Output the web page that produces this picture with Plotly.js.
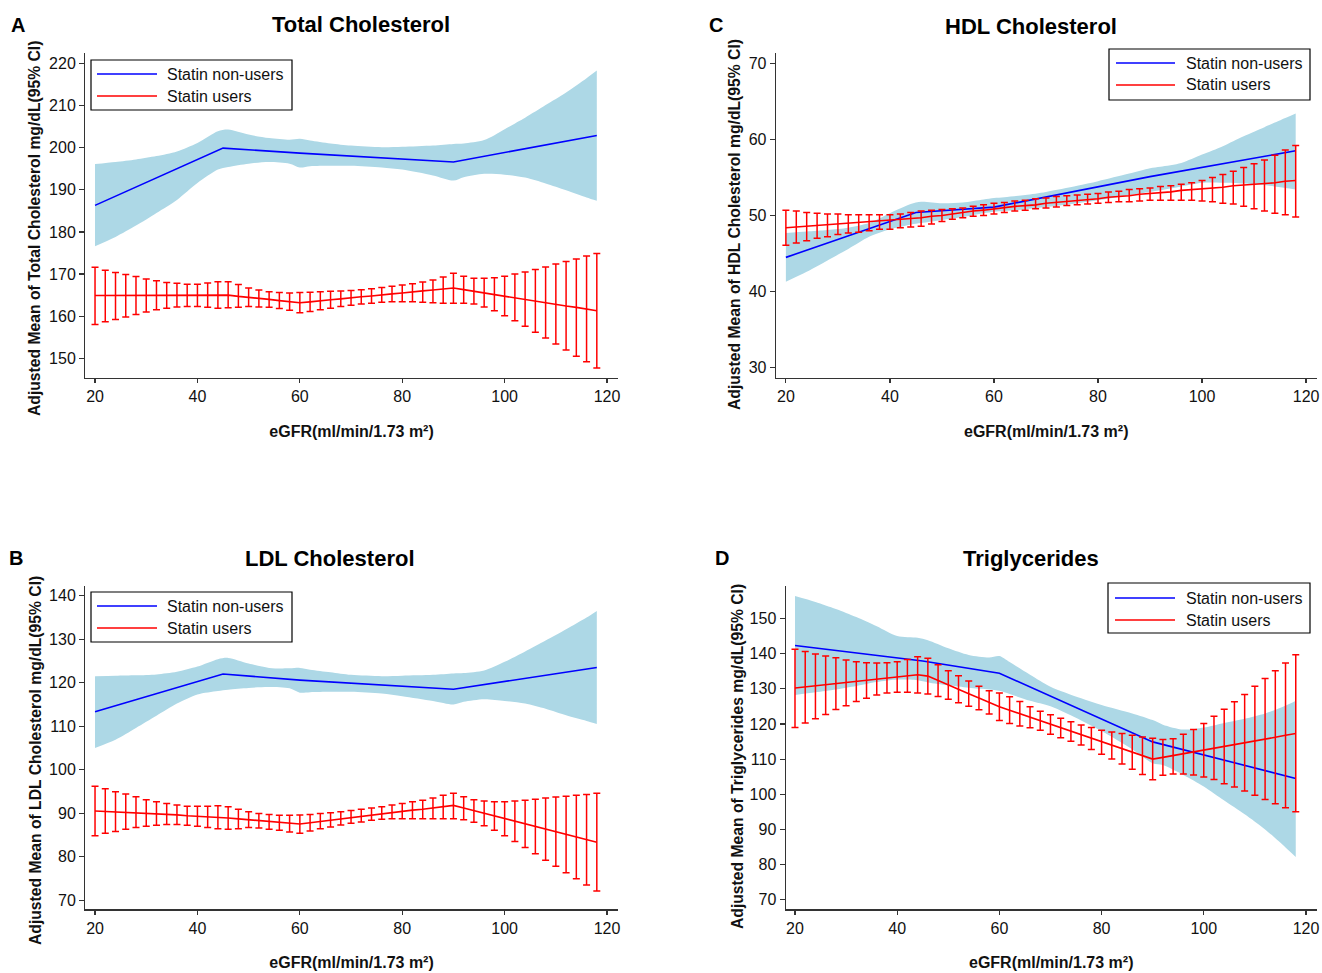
<!DOCTYPE html>
<html><head><meta charset="utf-8">
<script src="https://cdn.plot.ly/plotly-3.0.1.min.js"></script>
<style>html,body{margin:0;padding:0;background:#fff}#chart{width:1322px;height:973px}</style>
</head><body><div id="chart"></div>
<script>
// ---------- DATA ----------
const egfr = [20,22,24,26,28,30,32,34,36,38,40,42,44,46,48,50,52,54,56,58,60,62,64,66,68,70,72,74,76,78,80,82,84,86,88,90,92,94,96,98,100,102,104,106,108,110,112,114,116,118];
const knotX = [20,45,60,90,118];
const bandX = [20,24,28,32,36,40,44,46,50,54,58,60,62,66,70,76,80,86,90,92,96,100,104,108,112,116,118];
const seriesNames = ['Statin non-users','Statin users'];
const xTitle = 'eGFR(ml/min/1.73 m²)';

// A: Total cholesterol
const tcNonUsers = [186.3,199.9,198.7,196.6,202.9];
const tcBandUpper = [196.1,196.6,197.2,198.0,199.1,201.1,203.9,204.3,203.1,202.3,201.9,202.1,201.7,201.0,200.5,200.1,200.2,200.5,200.9,201.0,201.8,204.4,207.1,210.1,213.1,216.5,218.3];
const tcBandLower = [176.6,178.8,181.5,184.5,187.6,191.6,194.8,195.4,196.2,196.6,196.2,195.3,195.6,195.7,195.7,195.3,194.8,193.4,192.2,193.0,193.8,193.6,192.9,191.5,189.9,188.2,187.4];
const tcUsers = [164.9,164.9,164.9,164.9,164.9,165.0,165.0,165.0,165.0,165.0,165.0,165.0,165.0,165.0,164.7,164.5,164.2,164.0,163.7,163.5,163.2,163.4,163.7,163.9,164.1,164.4,164.6,164.8,165.1,165.3,165.5,165.8,166.0,166.2,166.5,166.7,166.3,165.9,165.5,165.2,164.8,164.4,164.0,163.6,163.2,162.8,162.4,162.1,161.7,161.3];
const tcUsersUpper = [171.6,170.9,170.4,169.9,169.4,168.8,168.4,168.0,167.8,167.6,167.6,167.9,168.2,168.2,167.5,166.7,166.2,165.8,165.6,165.5,165.6,165.7,165.8,165.9,166.0,166.1,166.3,166.5,166.8,167.1,167.4,167.7,168.1,168.6,169.3,170.2,169.5,169.0,169.0,169.1,169.5,170.0,170.5,171.1,171.7,172.4,173.0,173.6,174.3,174.9];
const tcUsersLower = [158.0,158.7,159.2,159.8,160.4,161.0,161.5,161.9,162.2,162.3,162.3,162.1,161.9,162.0,162.1,162.3,162.2,162.1,161.8,161.4,160.8,161.1,161.5,161.9,162.3,162.6,162.9,163.1,163.3,163.4,163.4,163.4,163.3,163.2,163.1,163.1,163.1,162.9,162.2,161.3,160.1,158.9,157.6,156.2,154.8,153.4,152.0,150.5,149.2,147.7];

// B: LDL cholesterol
const ldlNonUsers = [113.3,122.0,120.6,118.5,123.5];
const ldlBandUpper = [121.5,121.6,121.7,121.9,122.5,123.7,125.4,125.7,124.4,123.4,123.3,123.4,123.0,122.4,121.8,121.5,121.6,121.8,122.1,122.2,122.8,124.8,127.2,129.7,132.3,135.0,136.5];
const ldlBandLower = [105.0,106.9,109.6,112.4,115.2,117.3,118.1,118.4,118.8,119.0,118.7,117.7,117.8,117.9,117.9,117.5,116.9,115.8,115.0,115.6,116.2,115.8,115.2,114.0,112.5,111.2,110.5];
const ldlUsers = [90.5,90.4,90.3,90.1,90.0,89.9,89.8,89.7,89.6,89.4,89.3,89.2,89.0,88.9,88.7,88.5,88.3,88.1,87.9,87.7,87.5,87.8,88.1,88.4,88.6,88.9,89.2,89.5,89.8,90.1,90.4,90.7,90.9,91.2,91.5,91.8,91.2,90.6,90.0,89.4,88.8,88.2,87.6,86.9,86.3,85.7,85.1,84.5,83.9,83.3];
const ldlUsersUpper = [96.2,95.6,94.9,94.4,93.8,93.1,92.6,92.2,91.9,91.6,91.6,91.6,91.7,91.5,90.9,90.3,89.9,89.7,89.5,89.5,89.6,89.7,89.9,90.1,90.3,90.6,90.9,91.2,91.5,91.9,92.2,92.6,93.0,93.5,94.1,94.6,93.8,93.1,92.8,92.6,92.6,92.8,93.0,93.2,93.5,93.7,93.9,94.1,94.3,94.6];
const ldlUsersLower = [84.8,85.4,85.8,86.3,86.7,87.0,87.2,87.4,87.4,87.2,87.0,86.7,86.4,86.3,86.4,86.7,86.6,86.3,86.1,85.7,85.4,85.9,86.4,86.8,87.3,87.7,88.0,88.4,88.6,88.7,88.7,88.7,88.7,88.7,88.7,88.7,88.5,87.9,87.1,86.1,84.8,83.5,82.1,80.7,79.2,77.8,76.3,74.9,73.5,72.1];

// C: HDL cholesterol
const hdlNonUsers = [44.5,50.4,51.1,55.1,58.5];
const hdlBandUpper = [47.7,47.9,48.1,48.4,49.0,50.3,51.5,51.8,51.6,51.7,52.1,52.3,52.4,52.7,53.1,53.9,54.5,55.5,56.2,56.4,56.9,58.0,59.1,60.4,61.6,62.8,63.4];
const hdlBandLower = [41.3,42.6,44.1,45.6,47.2,48.2,48.8,49.0,49.4,49.8,50.3,50.5,50.6,50.8,51.1,51.6,52.0,52.7,53.1,53.3,53.8,54.3,54.3,54.2,54.0,53.6,53.4];
const hdlUsers = [48.4,48.5,48.6,48.7,48.8,48.9,49.0,49.1,49.2,49.3,49.4,49.5,49.6,49.7,49.9,50.0,50.2,50.4,50.6,50.7,50.9,51.0,51.2,51.3,51.4,51.6,51.7,51.8,52.0,52.1,52.2,52.4,52.5,52.6,52.8,52.9,53.0,53.1,53.3,53.4,53.5,53.6,53.7,53.9,54.0,54.1,54.2,54.3,54.5,54.6];
const hdlUsersUpper = [50.7,50.6,50.4,50.3,50.2,50.2,50.1,50.1,50.1,50.1,50.1,50.2,50.4,50.6,50.7,50.8,50.9,51.0,51.2,51.4,51.6,51.7,51.9,52.0,52.2,52.3,52.5,52.6,52.7,52.8,52.9,53.1,53.2,53.4,53.5,53.6,53.8,53.9,54.1,54.3,54.6,55.0,55.4,55.8,56.3,56.8,57.3,57.9,58.6,59.2];
const hdlUsersLower = [46.1,46.4,46.7,47.0,47.2,47.5,47.7,47.8,48.0,48.2,48.2,48.4,48.5,48.6,48.9,49.2,49.5,49.7,49.9,50.0,50.2,50.4,50.6,50.7,50.9,51.0,51.1,51.3,51.4,51.5,51.6,51.7,51.8,51.8,51.9,52.0,52.0,52.0,52.0,52.0,51.9,51.8,51.6,51.5,51.2,50.9,50.6,50.3,50.1,49.8];

// D: Triglycerides
const tgNonUsers = [142.3,137.9,134.4,114.9,104.5];
const tgBandUpper = [156.4,154.7,152.7,150.4,147.8,145.0,144.5,143.8,141.5,139.6,138.9,139.3,137.6,134.0,130.6,127.3,125.4,123.0,121.1,119.8,118.4,119.0,120.3,121.5,123.0,125.2,126.6];
const tgBandLower = [128.2,129.0,129.8,130.8,131.9,132.6,132.4,131.8,131.0,130.3,129.8,129.4,128.5,126.6,125.0,121.0,118.0,112.8,108.8,108.3,105.5,102.2,98.2,94.3,90.0,84.9,82.2];
const tgUsers = [130.2,130.5,130.8,131.2,131.5,131.8,132.1,132.4,132.8,133.1,133.4,133.7,134.0,133.6,132.3,131.1,129.9,128.6,127.4,126.1,124.9,123.9,122.9,121.9,120.9,119.9,118.9,117.9,116.9,115.9,114.9,113.9,113.0,112.0,111.0,110.0,110.5,111.0,111.6,112.1,112.6,113.1,113.6,114.2,114.7,115.2,115.7,116.2,116.8,117.3];
const tgUsersUpper = [141.2,140.6,139.9,139.3,138.8,138.2,137.7,137.4,137.3,137.4,137.7,138.3,139.1,138.7,136.8,135.1,133.7,132.2,130.7,129.4,128.8,127.7,126.4,124.9,123.6,122.6,121.6,120.6,119.7,119.0,118.2,117.7,117.3,116.8,116.3,115.9,115.6,115.8,117.1,118.4,120.1,122.2,124.2,126.3,128.4,130.7,132.9,135.1,137.3,139.7];
const tgUsersLower = [119.0,120.3,121.5,122.7,124.1,125.2,126.4,127.3,128.2,128.8,129.0,129.0,128.8,128.5,127.8,127.0,126.0,125.0,124.0,122.8,121.0,120.1,119.4,118.9,118.2,117.1,116.1,115.1,114.0,112.7,111.4,110.0,108.6,107.1,105.6,104.1,105.4,105.8,105.8,105.5,104.9,104.2,103.0,102.1,100.9,99.7,98.5,97.3,96.2,95.0];

// ---------- LAYOUT ----------
const W = 1322, H = 973;
const FONT = 'Liberation Sans, Arial, Helvetica, sans-serif';
const px = v => v / W;
const py = v => 1 - v / H;

const panels = [
  {letter:'A', title:'Total Cholesterol', ytitle:'Adjusted Mean of Total Cholesterol mg/dL(95% CI)',
   non:tcNonUsers, bu:tcBandUpper, bl:tcBandLower, m:tcUsers, up:tcUsersUpper, lo:tcUsersLower,
   ax:'', xdom:[85.3,617.8], ydom:[53.3,377.7], xr:[18.1,122.1], yr:[145.4,222.4], ytPos:[35,229],
   letterPos:[18,25], titlePos:[361,25], leg:{x0:91,x1:292,y0:60,y1:110,l0:97,l1:157,ly:[74,96],tx:165}},
  {letter:'C', title:'HDL Cholesterol', ytitle:'Adjusted Mean of HDL Cholesterol mg/dL(95% CI)',
   non:hdlNonUsers, bu:hdlBandUpper, bl:hdlBandLower, m:hdlUsers, up:hdlUsersUpper, lo:hdlUsersLower,
   ax:'2', xdom:[776,1316.5], ydom:[53.3,377.7], xr:[18.1,122.0], yr:[28.7,71.3], ytPos:[735,225],
   letterPos:[716,25], titlePos:[1031,26], leg:{x0:1109,x1:1310,y0:49,y1:100,l0:1116,l1:1175,ly:[63,85],tx:1184}},
  {letter:'B', title:'LDL Cholesterol', ytitle:'Adjusted Mean of LDL Cholesterol mg/dL(95% CI)',
   non:ldlNonUsers, bu:ldlBandUpper, bl:ldlBandLower, m:ldlUsers, up:ldlUsersUpper, lo:ldlUsersLower,
   ax:'3', xdom:[85.3,617.8], ydom:[585.7,909.3], xr:[18.1,122.1], yr:[67.9,142.3], ytPos:[35,761],
   letterPos:[16,558], titlePos:[330,558], leg:{x0:91,x1:292,y0:592,y1:642,l0:97,l1:157,ly:[606,628],tx:165}},
  {letter:'D', title:'Triglycerides', ytitle:'Adjusted Mean of Triglycerides mg/dL(95% CI)',
   non:tgNonUsers, bu:tgBandUpper, bl:tgBandLower, m:tgUsers, up:tgUsersUpper, lo:tgUsersLower,
   ax:'4', xdom:[785.8,1316.7], ydom:[585.7,909.3], xr:[18.2,122.1], yr:[67.3,159.3], ytPos:[737,757],
   letterPos:[722,558], titlePos:[1031,558], leg:{x0:1108,x1:1310,y0:583,y1:633,l0:1115,l1:1175,ly:[598,620],tx:1184}}
];

const traces = [];
const layout = {
  width: W, height: H, margin:{l:0,r:0,t:0,b:0}, paper_bgcolor:'#fff', plot_bgcolor:'rgba(0,0,0,0)',
  showlegend:false, font:{family:FONT, color:'#111'}, shapes:[], annotations:[]
};
const AXC = '#333';

panels.forEach(p => {
  const xa = 'x' + p.ax, ya = 'y' + p.ax;
  // CI band of non-users (lower edge, then upper edge filled down to it)
  traces.push({
    type:'scatter', mode:'lines', xaxis:xa, yaxis:ya, hoverinfo:'skip',
    x: bandX, y: p.bl, line:{width:0, color:'rgba(0,0,0,0)', shape:'spline', smoothing:0.8}
  });
  traces.push({
    type:'scatter', mode:'lines', xaxis:xa, yaxis:ya, hoverinfo:'skip',
    x: bandX, y: p.bu, fill:'tonexty', fillcolor:'#ADD8E6',
    line:{width:0, color:'rgba(0,0,0,0)', shape:'spline', smoothing:0.8}
  });
  // Non-users mean line
  traces.push({
    type:'scatter', mode:'lines', xaxis:xa, yaxis:ya, name:seriesNames[0],
    x: knotX, y: p.non, line:{color:'#0000FF', width:1.6}
  });
  // Users mean with CI error bars
  traces.push({
    type:'scatter', mode:'lines', xaxis:xa, yaxis:ya, name:seriesNames[1],
    x: egfr, y: p.m, line:{color:'#FF0000', width:1.6},
    error_y:{type:'data', symmetric:false,
      array: p.up.map((v,i) => v - p.m[i]),
      arrayminus: p.lo.map((v,i) => p.m[i] - v),
      color:'#FF0000', thickness:1.5, width:3.5}
  });

  const xk = 'xaxis' + p.ax, yk = 'yaxis' + p.ax;
  layout[xk] = {
    domain:[px(p.xdom[0]), px(p.xdom[1])], range:p.xr, anchor:ya,
    tick0:0, dtick:20, ticks:'outside', ticklen:4, tickwidth:1.2, tickcolor:AXC,
    showline:true, linecolor:AXC, linewidth:1.3, showgrid:false, zeroline:false,
    tickfont:{size:16, family:FONT, color:'#111'},
    title:{text:xTitle, font:{size:16, family:FONT, weight:'bold', color:'#111'}, standoff:21}
  };
  layout[yk] = {
    domain:[py(p.ydom[1]), py(p.ydom[0])], range:p.yr, anchor:xa,
    tick0:0, dtick:10, ticks:'outside', ticklen:5, tickwidth:1.2, tickcolor:AXC,
    showline:true, linecolor:AXC, linewidth:1.3, showgrid:false, zeroline:false,
    tickfont:{size:16, family:FONT, color:'#111'}
  };

  // Y-axis title (placed as in the reference, slightly below the axis centre)
  layout.annotations.push({xref:'paper', yref:'paper', x:px(p.ytPos[0]), y:py(p.ytPos[1]),
    xanchor:'center', yanchor:'middle', textangle:-90, showarrow:false, text:'<b>'+p.ytitle+'</b>',
    font:{size:15.7, family:FONT, color:'#111'}});
  // Panel letter and title
  layout.annotations.push({xref:'paper', yref:'paper', x:px(p.letterPos[0]), y:py(p.letterPos[1]),
    xanchor:'center', yanchor:'middle', showarrow:false, text:'<b>'+p.letter+'</b>',
    font:{size:20, family:FONT, color:'#000'}});
  layout.annotations.push({xref:'paper', yref:'paper', x:px(p.titlePos[0]), y:py(p.titlePos[1]),
    xanchor:'center', yanchor:'middle', showarrow:false, text:'<b>'+p.title+'</b>',
    font:{size:22, family:FONT, color:'#000'}});

  // Legend box
  const L = p.leg;
  layout.shapes.push({type:'rect', xref:'paper', yref:'paper', x0:px(L.x0), x1:px(L.x1), y0:py(L.y1), y1:py(L.y0),
    line:{color:'#000', width:1.2}, fillcolor:'#fff', layer:'above'});
  [['#0000FF',0],['#FF0000',1]].forEach(([c,i]) => {
    layout.shapes.push({type:'line', xref:'paper', yref:'paper', x0:px(L.l0), x1:px(L.l1), y0:py(L.ly[i]), y1:py(L.ly[i]),
      line:{color:c, width:1.5}, layer:'above'});
    layout.annotations.push({xref:'paper', yref:'paper', x:px(L.tx), y:py(L.ly[i]), xanchor:'left', yanchor:'middle',
      showarrow:false, text:seriesNames[i], font:{size:16, family:FONT, color:'#111'}});
  });
});

Plotly.newPlot('chart', traces, layout, {displayModeBar:false, staticPlot:true});
</script>
</body></html>
